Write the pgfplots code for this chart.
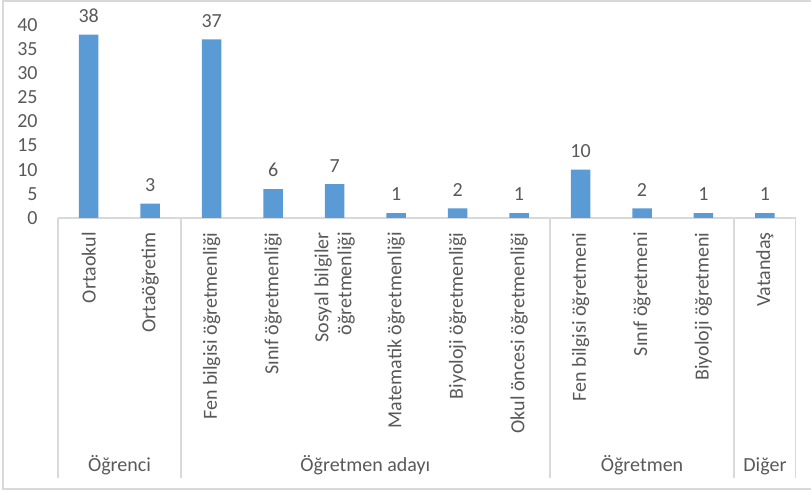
\documentclass[border=0pt]{standalone}
\usepackage{fontspec}
\setmainfont{Carlito}
\usepackage{pgfplots}
\pgfplotsset{compat=1.18}
\definecolor{barblue}{HTML}{5B9BD5}
\definecolor{txt}{HTML}{595959}
\definecolor{lgray}{HTML}{D9D9D9}
\begin{document}
\begin{tikzpicture}[font=\fontsize{10}{11.5}\selectfont]
\useasboundingbox (-29pt,109pt) rectangle (376.5pt,-136.5pt);
\draw[lgray, line width=0.8pt] (380pt,108.6pt) -- (-27.5pt,108.6pt) -- (-27.5pt,-135.4pt) -- (380pt,-135.4pt);
\begin{axis}[
  at={(0,0)}, anchor=south west,
  scale only axis, width=368.85pt, height=96.5pt,
  xmin=0.5, xmax=12.5, ymin=0, ymax=40,
  clip=false,
  axis lines=left,
  axis line style={-},
  y axis line style={draw=none},
  x axis line style={lgray, line width=0.8pt},
  major tick length=0pt,
  ytick={0,5,...,40},
  yticklabel style={anchor=east, inner sep=0pt, text=txt, font=\fontsize{10}{11.5}\selectfont},
  yticklabel shift=10pt,
  /pgf/number format/assume math mode=true,
  xtick={1,...,12},
  xticklabels={Ortaokul, Ortaöğretim, Fen bilgisi öğretmenliği, Sınıf öğretmenliği, {Sosyal bilgiler\\öğretmenliği}, Matematik öğretmenliği, Biyoloji öğretmenliği, Okul öncesi öğretmenliği, Fen bilgisi öğretmeni, Sınıf öğretmeni, Biyoloji öğretmeni, Vatandaş},
  xticklabel style={rotate=90, anchor=east, align=right, inner sep=0pt, text=txt, font=\fontsize{10}{11.5}\selectfont},
  xticklabel shift=7pt,
  ybar, bar width=9.75pt,
  nodes near coords,
  every node near coord/.append style={anchor=south, inner sep=0pt, yshift=5.9pt, text=txt, font=\fontsize{10}{11.5}\selectfont},
]
\addplot[fill=barblue, draw=none] coordinates {
(1,38) (2,3) (3,37) (4,6) (5,7) (6,1) (7,2) (8,1) (9,10) (10,2) (11,1) (12,1)};
\draw[lgray, line width=0.8pt] (axis cs:0.5,0) -- ([yshift=-130pt]axis cs:0.5,0);
\draw[lgray, line width=0.8pt] (axis cs:2.5,0) -- ([yshift=-130pt]axis cs:2.5,0);
\draw[lgray, line width=0.8pt] (axis cs:8.5,0) -- ([yshift=-130pt]axis cs:8.5,0);
\draw[lgray, line width=0.8pt] (axis cs:11.5,0) -- ([yshift=-130pt]axis cs:11.5,0);
\draw[lgray, line width=0.8pt] (axis cs:12.5,0) -- ([yshift=-130pt]axis cs:12.5,0);
\node[anchor=base, text=txt, inner sep=0pt] at ([yshift=-126.8pt]axis cs:1.5,0) {Öğrenci};
\node[anchor=base, text=txt, inner sep=0pt] at ([yshift=-126.8pt]axis cs:5.5,0) {Öğretmen adayı};
\node[anchor=base, text=txt, inner sep=0pt] at ([yshift=-126.8pt]axis cs:10,0) {Öğretmen};
\node[anchor=base, text=txt, inner sep=0pt] at ([yshift=-126.8pt]axis cs:12,0) {Diğer};
\end{axis}
\end{tikzpicture}
\end{document}
